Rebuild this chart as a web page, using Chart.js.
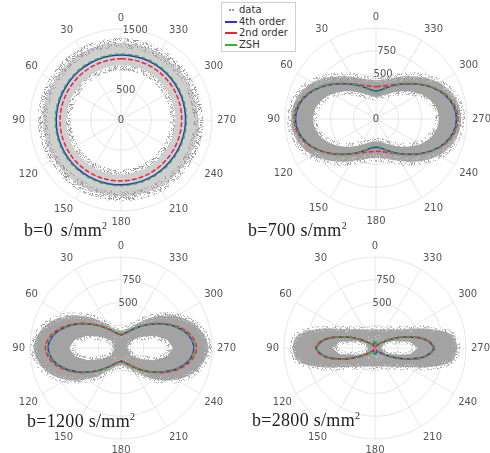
<!DOCTYPE html>
<html><head><meta charset="utf-8">
<script src="https://cdn.jsdelivr.net/npm/chart.js@4/dist/chart.umd.min.js"></script>
<style>
html,body{margin:0;padding:0;background:#fff;overflow:hidden}
#wrap{position:relative;width:490px;height:453px;overflow:hidden;background:#fff}
canvas.pc{position:absolute}
.ttl{position:absolute;z-index:5;font-family:"Liberation Serif","DejaVu Serif",serif;font-size:18px;color:#222;white-space:nowrap;line-height:18px;letter-spacing:0.3px}
.ttl sup{font-size:10px;line-height:0;vertical-align:7px}
#legend{position:absolute;z-index:6;left:221px;top:2px;width:75px;height:50px;border:1px solid #cfcfcf;background:#fff;font-family:"DejaVu Sans",sans-serif;font-size:10px;color:#333;box-sizing:border-box;padding-top:1px}
#legend .li{height:11.5px;line-height:11.5px;white-space:nowrap;position:relative;padding-left:17px}
#legend .mk{position:absolute;left:3px;top:5px;width:12px;height:0}
</style>
</head><body>
<div id="wrap">
<canvas id="cTL" class="pc" width="250" height="230" style="left:0px;top:5px"></canvas>
<canvas id="cTR" class="pc" width="250" height="230" style="left:255px;top:4px"></canvas>
<canvas id="cBL" class="pc" width="250" height="230" style="left:0px;top:233px"></canvas>
<canvas id="cBR" class="pc" width="250" height="230" style="left:254px;top:233px"></canvas>
<div class="ttl" style="left:24px;top:221px;word-spacing:3px">b=0 s/mm<sup>2</sup></div>
<div class="ttl" style="left:248px;top:221px">b=700 s/mm<sup>2</sup></div>
<div class="ttl" style="left:27px;top:412px">b=1200 s/mm<sup>2</sup></div>
<div class="ttl" style="left:252px;top:411px">b=2800 s/mm<sup>2</sup></div>
<div id="legend"></div>
</div>
<script>
// ---- data (angles in degrees, counter-clockwise from top, step 10) ----
const angles = [0,10,20,30,40,50,60,70,80,90,100,110,120,130,140,150,160,170,180,190,200,210,220,230,240,250,260,270,280,290,300,310,320,330,340,350];
const angleTickLabels = [0,30,60,90,120,150,180,210,240,270,300,330];
const seriesNames = ['data','4th order','2nd order','ZSH'];

// b = 0
const fourthTL = [1072,1070,1068,1066,1064,1062,1062,1064,1066,1068,1070,1072,1073,1074,1074,1073,1072,1070,1068,1066,1064,1062,1060,1058,1058,1060,1062,1064,1066,1068,1070,1072,1073,1074,1074,1073];
const secondTL = [1008,1006,1004,1002,1000,998,998,1000,1002,1004,1006,1008,1009,1010,1010,1009,1008,1006,1004,1002,1000,998,996,994,994,996,998,1000,1002,1004,1006,1008,1009,1010,1010,1009];
const zshTL = [1087,1085,1083,1081,1079,1077,1077,1079,1081,1083,1085,1087,1088,1089,1089,1088,1087,1085,1083,1081,1079,1077,1075,1073,1073,1075,1077,1079,1081,1083,1085,1087,1088,1089,1089,1088];
const cloudOutTL = [1270,1275,1280,1285,1285,1280,1280,1285,1290,1290,1285,1280,1280,1275,1270,1270,1265,1260,1255,1260,1265,1270,1270,1275,1280,1280,1280,1275,1270,1270,1265,1265,1260,1265,1265,1270];
const cloudInTL = [900,898,896,894,892,892,894,896,898,900,902,904,905,906,906,905,904,902,900,898,896,894,892,890,890,892,894,896,898,900,902,904,905,906,906,904];

// b = 700
const fourthTR = [310,325,370,430,505,598,700,796,862,885,862,796,700,598,505,430,370,325,310,325,370,430,505,598,700,796,862,885,862,796,700,598,505,430,370,325];
const secondTR = [355,365,392,440,510,600,705,805,875,900,875,805,705,600,510,440,392,365,355,365,392,440,510,600,705,805,875,900,875,805,705,600,510,440,392,365];
const zshTR = [300,318,368,432,508,600,702,798,866,890,866,798,702,600,508,432,368,318,300,318,368,432,508,600,702,798,866,890,866,798,702,600,508,432,368,318];
const cloudOutTR = [425,440,475,535,612,705,800,875,920,935,920,875,800,705,612,535,475,440,425,440,475,535,612,705,800,875,920,935,920,875,800,705,612,535,475,440];
const cloudInTR = [245,255,285,330,395,470,555,625,675,690,675,625,555,470,395,330,285,255,245,255,285,330,395,470,555,625,675,690,675,625,555,470,395,330,285,255];

// b = 1200
const fourthBL = [150,158,183,229,300,401,527,658,761,800,761,658,527,401,300,229,183,158,150,158,183,229,300,401,527,658,761,800,761,658,527,401,300,229,183,158];
const secondBL = [140,150,178,228,302,408,540,675,785,830,785,675,540,408,302,228,178,150,140,150,178,228,302,408,540,675,785,830,785,675,540,408,302,228,178,150];
const zshBL = [155,162,186,232,302,402,528,660,765,805,765,660,528,402,302,232,186,162,155,162,186,232,302,402,528,660,765,805,765,660,528,402,302,232,186,162];
const cloudOutBL = [190,200,230,290,405,545,700,830,920,960,920,830,700,545,405,290,230,200,190,200,230,290,405,545,700,830,920,960,920,830,700,545,405,290,230,200];
const holeOutBL = [110,110,110,110,110,110,240,390,515,570,515,390,240,110,110,110,110,110,110,110,110,110,110,110,240,390,515,570,515,390,240,110,110,110,110,110];
const coreBL = [130,130,130,130,130,130,119,89,80,77,80,89,119,130,130,130,130,130,130,130,130,130,130,130,119,89,80,77,80,89,119,130,130,130,130,130];

// b = 2800
const fourthBR = [65,60,45,35,48,90,185,350,550,645,550,350,185,90,48,35,45,60,65,60,45,35,48,90,185,350,550,645,550,350,185,90,48,35,45,60];
const secondBR = [5,6,9,18,38,88,190,362,560,652,560,362,190,88,38,18,9,6,5,6,9,18,38,88,190,362,560,652,560,362,190,88,38,18,9,6];
const zshBR = [70,64,48,36,48,88,183,352,552,648,552,352,183,88,48,36,48,64,70,64,48,36,48,88,183,352,552,648,552,352,183,88,48,36,48,64];
const cloudOutBR = [205,207,216,236,268,322,420,620,855,905,855,620,420,322,268,236,216,207,205,207,216,236,268,322,420,620,855,905,855,620,420,322,268,236,216,207];
const holeOutBR = [100,100,100,100,100,100,100,215,390,470,390,215,100,100,100,100,100,100,100,100,100,100,100,100,100,215,390,470,390,215,100,100,100,100,100,100];
const coreBR = [120,120,120,120,120,120,120,105,82,77,82,105,120,120,120,120,120,120,120,120,120,120,120,120,120,105,82,77,82,105,120,120,120,120,120,120];

// radial tick labels shown
const rTicksTL = [0,500,1500];
const rTicksTR = [0,500,750];
const rTicksBL = [500,750];
const rTicksBR = [500,750];

// ---- styles ----
const C4 = '#3030cc', C2 = '#e8283a', CZ = '#2fb52f';

// speckle texture for the fuzzy edges of the point clouds (fixed hash, purely decorative)
function hash(x, y) {
  let h = Math.imul(x, 374761393) + Math.imul(y, 668265263);
  h = Math.imul(h ^ (h >>> 13), 1274126177);
  h ^= h >>> 16;
  return (h >>> 0) % 1000 / 10;
}
function speckle(dots) {
  const N = 64, c = document.createElement('canvas');
  c.width = c.height = N;
  const g = c.getContext('2d');
  for (let y = 0; y < N; y++) for (let x = 0; x < N; x++) {
    const v = hash(x, y);
    let acc = 0;
    for (const [col, pct] of dots) {
      acc += pct;
      if (v < acc) { g.fillStyle = col; g.fillRect(x, y, 1, 1); break; }
    }
  }
  return g.createPattern(c, 'repeat');
}
const haloTex = speckle([['#a6a6a6', 16], ['#c6c6c6', 14]]);
const ringTex = speckle([['#9c9c9c', 20], ['#c2c2c2', 16]]);

// radar goes clockwise; our angles go counter-clockwise
function reorder(arr){ return arr.map((_, i) => arr[(arr.length - i) % arr.length]); }
const labels = angles.map((_, i) => {
  const a = angles[(angles.length - i) % angles.length];
  return angleTickLabels.includes(a) ? String(a) : '';
});

const rTicksPlugin = {
  id: 'rTicks',
  beforeDatasetsDraw(chart, args, opts) {
    const s = chart.scales.r, ctx = chart.ctx;
    const a = 9 * Math.PI / 180;
    ctx.save();
    ctx.font = '10px "DejaVu Sans"';
    ctx.fillStyle = '#555';
    ctx.textAlign = 'center';
    ctx.textBaseline = 'middle';
    (opts.values || []).forEach(v => {
      const d = s.getDistanceFromCenterForValue(v);
      ctx.fillText(String(v), s.xCenter + d * Math.sin(a), s.yCenter - d * Math.cos(a));
    });
    ctx.restore();
  }
};

function curve(data, color, dash, label){
  return {label, data: reorder(data), borderColor: color, borderWidth: 1.5, borderDash: dash,
    pointRadius: 0, fill: false, tension: 0.35};
}

function panel(id, p){
  const ds = [
    curve(p.zsh, CZ, [4,3], seriesNames[3]),
    curve(p.second, C2, [5,2], seriesNames[2]),
    curve(p.fourth, C4, [], seriesNames[1])
  ];
  if (p.core) ds.push({label: seriesNames[0], data: reorder(p.core), fill: 'start', backgroundColor: p.cloud,
    borderColor: haloTex, borderWidth: 5, pointRadius: 0, tension: 0});
  const outIdx = ds.length;
  ds.push({label: seriesNames[0], data: reorder(p.out), fill: outIdx + 1, backgroundColor: p.cloud,
    borderColor: p.edgeTex, borderWidth: p.halo, pointRadius: 0, tension: 0.3});
  ds.push({label: seriesNames[0], data: reorder(p.inn), fill: false, borderColor: p.edgeTex, borderWidth: p.halo,
    pointRadius: 0, tension: p.core ? 0 : 0.3});
  new Chart(document.getElementById(id), {
    type: 'radar',
    data: {labels, datasets: ds},
    plugins: [rTicksPlugin],
    options: {
      responsive: false, animation: false, devicePixelRatio: 1,
      layout: {padding: 7},
      plugins: {legend: {display: false}, tooltip: {enabled: false}, rTicks: {values: p.ticks}},
      scales: {r: {
        min: 0, max: p.max, startAngle: 0,
        ticks: {display: false, stepSize: p.step},
        grid: {circular: true, color: '#e6e6e6', lineWidth: 1},
        angleLines: {display: true, color: '#e6e6e6', lineWidth: c => (c.index % 3 === 0 ? 1 : 0)},
        pointLabels: {display: true, color: '#555', padding: 5, font: {size: 10, family: 'DejaVu Sans'}}
      }}
    }
  });
}

panel('cTL', {fourth: fourthTL, second: secondTL, zsh: zshTL, out: cloudOutTL, inn: cloudInTL, cloud: '#cfcfcf', edgeTex: ringTex, halo: 10, max: 1500, step: 500, ticks: rTicksTL});
panel('cTR', {fourth: fourthTR, second: secondTR, zsh: zshTR, out: cloudOutTR, inn: cloudInTR, cloud: '#a3a3a3', edgeTex: haloTex, halo: 8, max: 1000, step: 250, ticks: rTicksTR});
panel('cBL', {fourth: fourthBL, second: secondBL, zsh: zshBL, out: cloudOutBL, inn: holeOutBL, core: coreBL, cloud: '#a3a3a3', edgeTex: haloTex, halo: 7, max: 1000, step: 250, ticks: rTicksBL});
panel('cBR', {fourth: fourthBR, second: secondBR, zsh: zshBR, out: cloudOutBR, inn: holeOutBR, core: coreBR, cloud: '#a3a3a3', edgeTex: haloTex, halo: 6, max: 1000, step: 250, ticks: rTicksBR});

// legend
const lg = document.getElementById('legend');
const marks = [
  'border-top:2px dotted #999;width:3px;left:7px',
  'border-top:2px solid ' + C4,
  'border-top:2px dashed ' + C2,
  'border-top:2px dashed ' + CZ
];
seriesNames.forEach((n, i) => {
  const d = document.createElement('div'); d.className = 'li';
  const m = document.createElement('span'); m.className = 'mk'; m.style.cssText = marks[i];
  d.appendChild(m); d.appendChild(document.createTextNode(n)); lg.appendChild(d);
});
</script>
</body></html>
